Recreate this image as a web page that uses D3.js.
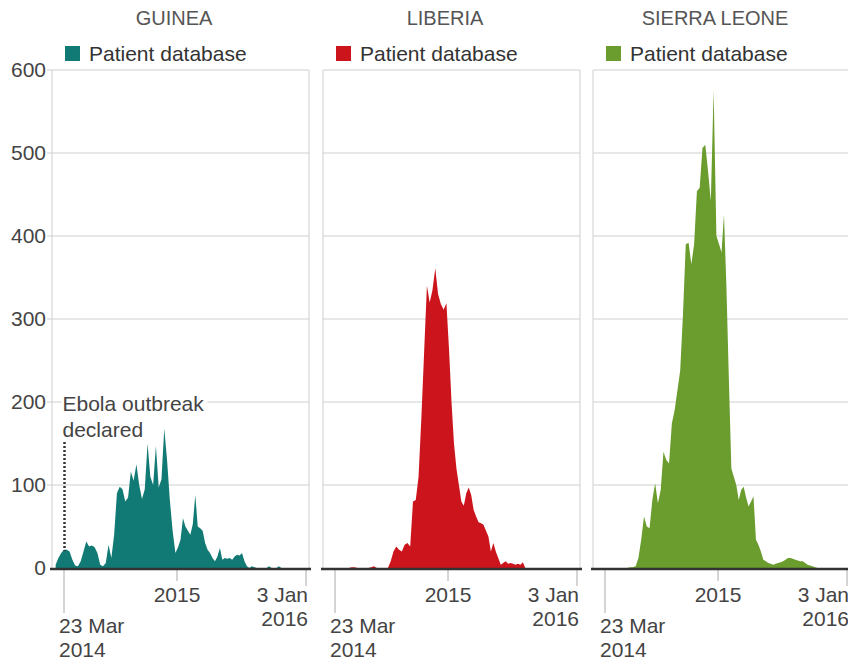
<!DOCTYPE html>
<html>
<head>
<meta charset="utf-8">
<script src="https://cdn.jsdelivr.net/npm/d3@7"></script>
<style>
  body { margin: 0; background: #fff; }
  svg text { font-family: "Liberation Sans", Arial, Helvetica, sans-serif; }
</style>
</head>
<body>
<svg id="chart" width="848" height="660"></svg>
<script>
// weekly patient counts, first week starting 2 Mar 2014
const firstWeek = new Date(2014, 2, 2);

const countries = ['GUINEA', 'LIBERIA', 'SIERRA LEONE'];
const colors = ['#127a74', '#cc141c', '#6a9c2e'];

const guinea = [4,12,18,22,22,20,10,3,2,8, 20,32,26,27,25,18,4,2,6,28,
  12,40,90,98,95,80,85,116,105,125, 100,83,95,150,110,100,147,97,107,168,
  130,82,45,18,25,34,60,50,45,40, 53,88,50,48,45,30,22,18,12,8,
  14,24,10,12,11,12,10,14,16,15, 18,8,2,0,2,1,0,0,0,0,
  0,2,0,0,0,2,0,0,0,0, 0,0,0,0,0,0,0,0];

const liberia = [0,0,0,0,0,0,0,0,0,1, 1,0,0,0,0,0,1,2,0,0,
  0,0,0,8,20,26,22,20,28,30, 26,80,82,110,180,260,340,320,335,361,
  330,318,311,319,263,200,150,120,100,80, 75,90,97,88,70,62,55,54,52,45,
  38,20,30,20,12,4,6,8,5,6, 5,4,5,4,7,0,0,0,0,0,
  0,0,0,0,0,0,0,0,0,0, 0,0,0,0,0,0,0,0];

const sierraLeone = [0,0,0,0,0,0,0,0,0,0, 0,0,1,1,2,12,34,62,50,48,
  82,102,78,94,140,130,126,174,190,214, 238,306,390,392,366,390,454,458,506,510,
  478,442,576,400,390,380,426,338,226,120, 110,100,82,94,98,85,74,80,86,34,
  28,20,10,8,6,5,4,5,6,7, 8,10,12,12,11,10,9,8,8,6,
  4,3,2,1,0,0,0,0,0,0, 0,0,0,0,0,0,0,0];

const series = [guinea, liberia, sierraLeone];

const yTicks = [0, 100, 200, 300, 400, 500, 600];
const xTickDates = [new Date(2014, 2, 23), new Date(2015, 0, 1), new Date(2016, 0, 3)];
const xTickLabels = [['23 Mar', '2014'], ['2015'], ['3 Jan', '2016']];
const legendLabel = 'Patient database';
const noteLines = ['Ebola outbreak', 'declared'];

const svg = d3.select('#chart');

const panelLefts = [52, 323, 593];
const panelWidth = 257;
const plotTop = 70, plotBottom = 568;

let x = d3.scaleTime()
  .domain(xTickDates)
  .range([12, 125, 254]);

let y = d3.scaleLinear()
  .domain([0, 600])
  .range([plotBottom, plotTop]);

let area = d3.area()
  .x((d, i) => x(d3.timeWeek.offset(firstWeek, i)))
  .y0(y(0))
  .y1(d => y(d));

countries.forEach((name, k) => {
  const g = svg.append('g').attr('transform', `translate(${panelLefts[k]},0)`);

  // gridlines
  g.selectAll('line.grid')
    .data(yTicks.slice(1))
    .join('line')
    .attr('class', 'grid')
    .attr('x1', k === 0 ? -5 : 0)
    .attr('x2', panelWidth)
    .attr('y1', d => y(d))
    .attr('y2', d => y(d))
    .attr('stroke', '#cfcfcf')
    .attr('stroke-width', 1);

  // panel sides
  g.selectAll('line.side')
    .data([0, panelWidth])
    .join('line')
    .attr('class', 'side')
    .attr('x1', d => d).attr('x2', d => d)
    .attr('y1', plotTop).attr('y2', plotBottom)
    .attr('stroke', '#cfcfcf');

  g.append('clipPath')
    .attr('id', 'clip' + k)
    .append('rect')
    .attr('x', 0).attr('y', plotTop)
    .attr('width', panelWidth).attr('height', plotBottom - plotTop);

  g.append('path')
    .datum(series[k])
    .attr('clip-path', `url(#clip${k})`)
    .attr('fill', colors[k])
    .attr('d', area);

  // x ticks
  const tickEnds = [613, 581, 586];
  g.selectAll('line.xtick')
    .data(xTickDates)
    .join('line')
    .attr('class', 'xtick')
    .attr('x1', d => x(d)).attr('x2', d => x(d))
    .attr('y1', plotBottom).attr('y2', (d, i) => tickEnds[i])
    .attr('stroke', '#aaa');

  // baseline
  g.append('line')
    .attr('x1', -2).attr('x2', panelWidth + 2)
    .attr('y1', plotBottom + 1).attr('y2', plotBottom + 1)
    .attr('stroke', '#333')
    .attr('stroke-width', 2.5);

  // x labels
  const labelPos = [
    { dx: -5, anchor: 'start', y0: 633 },
    { dx: 0, anchor: 'middle', y0: 602 },
    { dx: 2, anchor: 'end', y0: 602 }
  ];
  xTickDates.forEach((d, i) => {
    const t = g.append('text')
      .attr('x', x(d) + labelPos[i].dx)
      .attr('y', labelPos[i].y0)
      .attr('text-anchor', labelPos[i].anchor)
      .attr('fill', '#444')
      .style('font-size', '21px');
    xTickLabels[i].forEach((line, j) => {
      t.append('tspan')
        .attr('x', x(d) + labelPos[i].dx)
        .attr('dy', j === 0 ? 0 : 24)
        .text(line);
    });
  });

  // title
  g.append('text')
    .attr('x', 122)
    .attr('y', 25)
    .attr('text-anchor', 'middle')
    .attr('fill', '#555')
    .style('font-size', '20px')
    .text(name);

  // legend
  g.append('rect')
    .attr('x', x(xTickDates[0]) + 1)
    .attr('y', 46)
    .attr('width', 15)
    .attr('height', 15)
    .attr('fill', colors[k]);

  g.append('text')
    .attr('x', x(xTickDates[0]) + 25)
    .attr('y', 61)
    .attr('fill', '#333')
    .style('font-size', '21px')
    .text(legendLabel);

  if (k === 0) {
    // y labels
    g.selectAll('text.ylab')
      .data(yTicks)
      .join('text')
      .attr('class', 'ylab')
      .attr('x', -6)
      .attr('y', d => y(d))
      .attr('dy', '0.35em')
      .attr('text-anchor', 'end')
      .attr('fill', '#444')
      .style('font-size', '21px')
      .text(d => d);

    // annotation
    const ax = x(xTickDates[0]) + 0.5;
    g.append('line')
      .attr('x1', ax).attr('x2', ax)
      .attr('y1', 442).attr('y2', 551)
      .attr('stroke', '#333')
      .attr('stroke-width', 2.5)
      .attr('stroke-dasharray', '2,2');

    const note = g.append('g');
    const bg = note.append('rect').attr('fill', '#fff');
    const t1 = note.append('text')
      .attr('x', ax - 2).attr('y', 411)
      .attr('fill', '#444')
      .style('font-size', '21px')
      .text(noteLines[0]);
    note.append('text')
      .attr('x', ax - 2).attr('y', 437)
      .attr('fill', '#444')
      .style('font-size', '21px')
      .text(noteLines[1]);
    const bb = t1.node().getBBox();
    bg.attr('x', bb.x - 1).attr('y', bb.y)
      .attr('width', bb.width + 4).attr('height', bb.height);
  }
});
</script>
</body>
</html>
